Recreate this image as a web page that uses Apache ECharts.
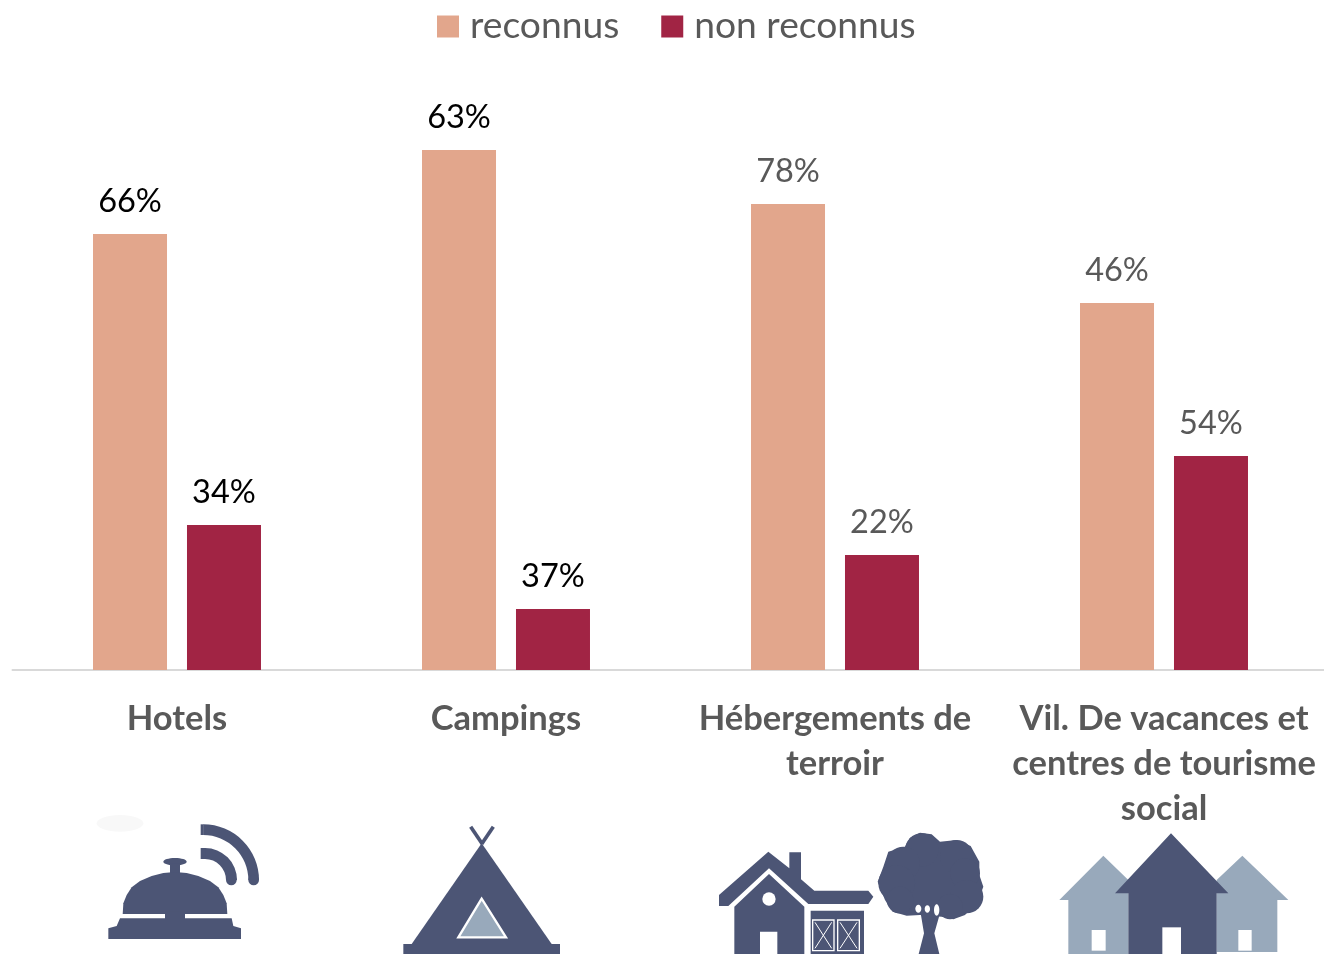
<!DOCTYPE html>
<html><head><meta charset="utf-8">
<style>html,body{margin:0;padding:0;background:#fff}#c{width:1324px;height:954px}</style>
<script src="https://cdn.jsdelivr.net/npm/echarts@6/dist/echarts.min.js"></script>
</head><body><div id="c"></div>
<script>
const categories = ["Hotels","Campings","Hébergements de\nterroir","Vil. De vacances et\ncentres de tourisme\nsocial"];
const seriesNames = ["reconnus","non reconnus"];
const reconnusBars = [87.2,104,93.2,73.4];
const nonReconnusBars = [29,12.2,23,42.8];
const reconnusLabels = ["66%","63%","78%","46%"];
const nonReconnusLabels = ["34%","37%","22%","54%"];
const labelColors = ["#000000","#000000","#595959","#595959"];

const FONT = "Lato";
const NAVY = "#4c5575", LIGHT = "#98a9bb", WHITE = "#ffffff";

function poly(points, fill, extra){ return {type:'polygon',silent:true,shape:{points},style:Object.assign({fill},extra||{})}; }
function rect(x,y,width,height,fill,extra){ return {type:'rect',silent:true,shape:{x,y,width,height},style:Object.assign({fill},extra||{})}; }
function circ(cx,cy,r,fill){ return {type:'circle',silent:true,shape:{cx,cy,r},style:{fill}}; }
function ell(cx,cy,rx,ry,fill){ return {type:'ellipse',silent:true,shape:{cx,cy,rx,ry},style:{fill}}; }
function seg(x1,y1,x2,y2,stroke,lineWidth){ return {type:'line',silent:true,shape:{x1,y1,x2,y2},style:{stroke,lineWidth}}; }
function band(cx,cy,r0,r){ return {type:'sector',silent:true,shape:{cx,cy,r0,r,startAngle:-Math.PI/2,endAngle:0,clockwise:true},style:{fill:NAVY}}; }
function icon(x,y,children){ return {type:'group',x,y,scaleX:1/3,scaleY:1/3,silent:true,children}; }

const bell = icon(80,800,[
  ell(120,70,70,25,"#f8f8f8"),
  band(370,240,135,167), rect(362,73,9,32,NAVY), circ(521,240,16,NAVY),
  band(375,240,63,96), rect(362,144,14,33,NAVY), circ(454,240,16,NAVY),
  ell(285,185,35,11,NAVY), rect(270,190,30,35,NAVY),
  poly([[128,342],[130,310],[140,285],[155,262],[180,243],[215,228],[250,219],[285,216],[320,219],[355,228],[390,243],[415,262],[430,285],[440,310],[442,342]],NAVY),
  rect(255,335,60,25,NAVY),
  poly([[85,385],[110,378],[120,355],[455,355],[460,378],[483,385],[483,417],[85,417]],NAVY)
]);
const tent = icon(80,800,[
  seg(1172,80,1207,132,NAVY,11), seg(1240,80,1205,132,NAVY,11),
  poly([[1205,130],[995,432],[1415,432]],NAVY),
  rect(970,432,470,30,NAVY),
  poly([[1205,296],[1135,412],[1278,412]],LIGHT,{stroke:WHITE,lineWidth:7})
]);
const farm = icon(700,800,[
  poly([[57,285],[205,155],[268,205],[268,157],[303,157],[303,238],[343,272],[505,272],[520,290],[505,312],[325,312],[207,205],[85,318],[57,318]],NAVY),
  poly([[103,320],[207,222],[313,320],[313,462],[232,462],[232,395],[180,395],[180,462],[103,462]],NAVY),
  circ(207,297,20,WHITE),
  rect(332,332,160,130,NAVY),
  rect(338,360,64,92,NAVY,{stroke:WHITE,lineWidth:4}),
  rect(413,360,65,92,NAVY,{stroke:WHITE,lineWidth:4}),
  seg(345,367,395,445,WHITE,3), seg(395,367,345,445,WHITE,3),
  seg(420,367,471,445,WHITE,3), seg(471,367,420,445,WHITE,3),
  poly([[660,98],[695,103],[720,125],[770,120],[812,138],[838,185],[838,225],[850,260],[832,308],[795,345],[760,358],[725,350],[660,345],[620,347],[578,335],[555,300],[533,245],[550,200],[565,155],[615,140],[630,113]],NAVY),
  circ(665,150,50,NAVY), circ(770,170,50,NAVY), circ(610,190,50,NAVY), circ(590,250,55,NAVY),
  circ(600,300,40,NAVY), circ(795,220,45,NAVY), circ(800,290,50,NAVY), circ(750,320,38,NAVY),
  poly([[656,462],[672,400],[662,340],[720,340],[703,400],[718,462]],NAVY),
  ell(655,326,9,12,WHITE), ell(682,327,8,11,WHITE), ell(710,330,8,17,WHITE)
]);
const village = icon(1040,800,[
  poly([[58,300],[190,167],[265,240],[265,462],[85,462],[85,300]],LIGHT),
  poly([[530,240],[607,167],[745,300],[712,300],[712,456],[530,456]],LIGHT),
  rect(155,390,42,62,WHITE), rect(595,390,40,62,WHITE),
  poly([[225,280],[393,100],[565,280],[530,280],[530,462],[265,462],[265,280]],NAVY),
  rect(367,382,56,80,WHITE)
]);

function barData(values, labels){
  return values.map((v,i)=>({value:v,label:{formatter:labels[i],color:labelColors[i]}}));
}
const chart = echarts.init(document.getElementById('c'),null,{renderer:'canvas'});
chart.setOption({
  animation:false,
  backgroundColor:'#fff',
  legend:{
    data:seriesNames,top:3,left:432,icon:'rect',itemWidth:22,itemHeight:22,itemGap:42,
    textStyle:{fontFamily:FONT,fontSize:37.2,color:'#595959',padding:[0,0,0,6]}
  },
  grid:{left:12.5,width:1316,top:70,height:600,containLabel:false,outerBoundsMode:'none'},
  xAxis:{type:'category',data:categories,
    axisTick:{show:false},
    axisLine:{lineStyle:{color:'#d9d9d9',width:2}},
    axisLabel:{interval:0,margin:26,fontFamily:FONT,fontSize:34.5,fontWeight:'bold',color:'#595959',lineHeight:45,overflow:'none',hideOverlap:false}
  },
  yAxis:{type:'value',min:0,max:120,show:false},
  series:[
    {name:seriesNames[0],type:'bar',barWidth:74,barGap:'27%',itemStyle:{color:'#e2a68c'},
     label:{show:true,position:'top',distance:16,fontFamily:FONT,fontSize:32.5},data:barData(reconnusBars,reconnusLabels)},
    {name:seriesNames[1],type:'bar',barWidth:74,itemStyle:{color:'#a12444'},
     label:{show:true,position:'top',distance:16,fontFamily:FONT,fontSize:32.5},data:barData(nonReconnusBars,nonReconnusLabels)}
  ],
  graphic:[bell,tent,farm,village]
});
</script></body></html>
